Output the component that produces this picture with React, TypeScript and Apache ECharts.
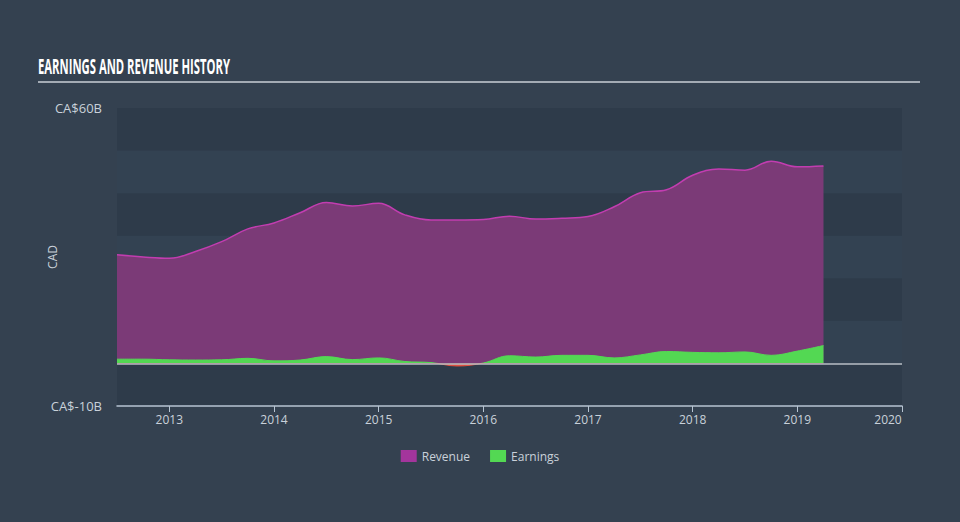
import React, { useEffect, useRef } from "react";
import * as echarts from "echarts";

// quarterly positions along the time axis (decimal years)
const quarters = [
  "2012.5", "2012.75", "2013", "2013.25", "2013.5", "2013.75", "2014", "2014.25", "2014.5", "2014.75",
  "2015", "2015.25", "2015.5", "2015.75", "2016", "2016.25", "2016.5", "2016.75", "2017", "2017.25",
  "2017.5", "2017.75", "2018", "2018.25", "2018.5", "2018.75", "2019", "2019.25", "2019.5", "2019.75",
  "2020",
];
const revenue = [
  25.5, 25.0, 24.7, 26.3, 28.6, 31.6, 33.0, 35.4, 37.8, 37.0,
  37.6, 34.9, 33.7, 33.7, 33.8, 34.6, 33.9, 34.1, 34.5, 36.8,
  40.1, 40.8, 44.2, 45.7, 45.4, 47.5, 46.2, 46.4,
];
const earnings = [
  1.0, 1.0, 0.85, 0.8, 0.85, 1.2, 0.6, 0.8, 1.6, 0.9,
  1.3, 0.45, 0.2, -0.6, 0.1, 1.8, 1.5, 1.9, 1.9, 1.3,
  2.0, 2.8, 2.6, 2.5, 2.7, 1.9, 2.9, 4.2,
];
const yLabelValues = [-10, 60];
const TITLE = "EARNINGS AND REVENUE HISTORY";

const TEXT = "#c9d1da";
const FONT = "'Open Sans', sans-serif";
const isYear = (v: string) => Number(v) % 1 === 0;

export default function App() {
  const ref = useRef<HTMLDivElement>(null);
  useEffect(() => {
    document.body.style.margin = "0";
    const chart = echarts.init(ref.current!, null, { renderer: "svg" });
    chart.setOption({
      animation: false,
      backgroundColor: "#344150",
      graphic: [
        {
          type: "text",
          x: 38,
          y: 55,
          scaleX: 0.537,
          silent: true,
          style: {
            text: TITLE,
            fill: "#ffffff",
            fontSize: 21,
            fontWeight: "bold",
            fontFamily: FONT,
            textVerticalAlign: "top",
          },
        },
        {
          type: "rect",
          shape: { x: 38, y: 81, width: 882, height: 2 },
          style: { fill: "#a3abb4" },
          silent: true,
        },
      ],
      legend: {
        bottom: 55,
        left: "center",
        itemWidth: 16,
        itemHeight: 12,
        itemGap: 20,
        icon: "rect",
        textStyle: { color: TEXT, fontSize: 12, fontFamily: FONT },
        data: ["Revenue", "Earnings"],
      },
      grid: { left: 117, right: 58, top: 108, bottom: 116 },
      xAxis: {
        type: "category",
        data: quarters,
        boundaryGap: false,
        splitLine: { show: false },
        axisLine: { show: true, onZero: false, lineStyle: { color: "#b7c4d2", width: 1.5 } },
        axisTick: {
          show: true,
          interval: (_i: number, v: string) => isYear(v),
          length: 6,
          lineStyle: { color: "#b7c4d2" },
        },
        axisLabel: {
          interval: (_i: number, v: string) => isYear(v),
          color: TEXT,
          fontSize: 12,
          margin: 7,
          fontFamily: FONT,
          formatter: (v: string) => (v === "2020" ? "{r|2020}" : String(Math.round(Number(v)))),
          rich: { r: { color: TEXT, fontSize: 12, padding: [0, 28, 0, 0], fontFamily: FONT } },
        },
      },
      yAxis: {
        type: "value",
        min: -10,
        max: 60,
        interval: 10,
        name: "CAD",
        nameLocation: "middle",
        nameGap: 59,
        nameMoveOverlap: false,
        nameTextStyle: { color: TEXT, fontSize: 12, fontFamily: FONT },
        axisLine: { show: false },
        axisTick: { show: false },
        splitLine: { show: false },
        splitArea: { show: true, areaStyle: { color: ["#2e3b4a", "#334252"] } },
        axisLabel: {
          color: TEXT,
          fontSize: 13,
          margin: 15,
          fontFamily: FONT,
          formatter: (v: number) => (yLabelValues.includes(v) ? "CA$" + v + "B" : ""),
        },
      },
      visualMap: {
        type: "piecewise",
        show: false,
        seriesIndex: 1,
        dimension: 1,
        pieces: [
          { gte: -100, lt: 0, color: "#e4503f" },
          { gte: 0, lte: 100, color: "#53d853" },
        ],
      },
      series: [
        {
          name: "Revenue",
          type: "line",
          data: revenue,
          smooth: 0.4,
          symbol: "none",
          itemStyle: { color: "#a3359c" },
          lineStyle: { color: "#c23db0", width: 1.5 },
          areaStyle: { color: "#7b3a77", opacity: 1 },
          markLine: {
            silent: true,
            symbol: "none",
            label: { show: false },
            lineStyle: { color: "#b9bfc6", width: 1.5, type: "solid" },
            data: [{ yAxis: 0 }],
          },
        },
        {
          name: "Earnings",
          type: "line",
          data: earnings,
          smooth: 0.4,
          symbol: "none",
          itemStyle: { color: "#53d853" },
          lineStyle: { width: 1 },
          areaStyle: { opacity: 1 },
          z: 3,
        },
      ],
    });
    return () => chart.dispose();
  }, []);
  return (
    <div
      ref={ref}
      style={{ position: "absolute", left: 0, top: 0, width: 960, height: 522 }}
    />
  );
}
